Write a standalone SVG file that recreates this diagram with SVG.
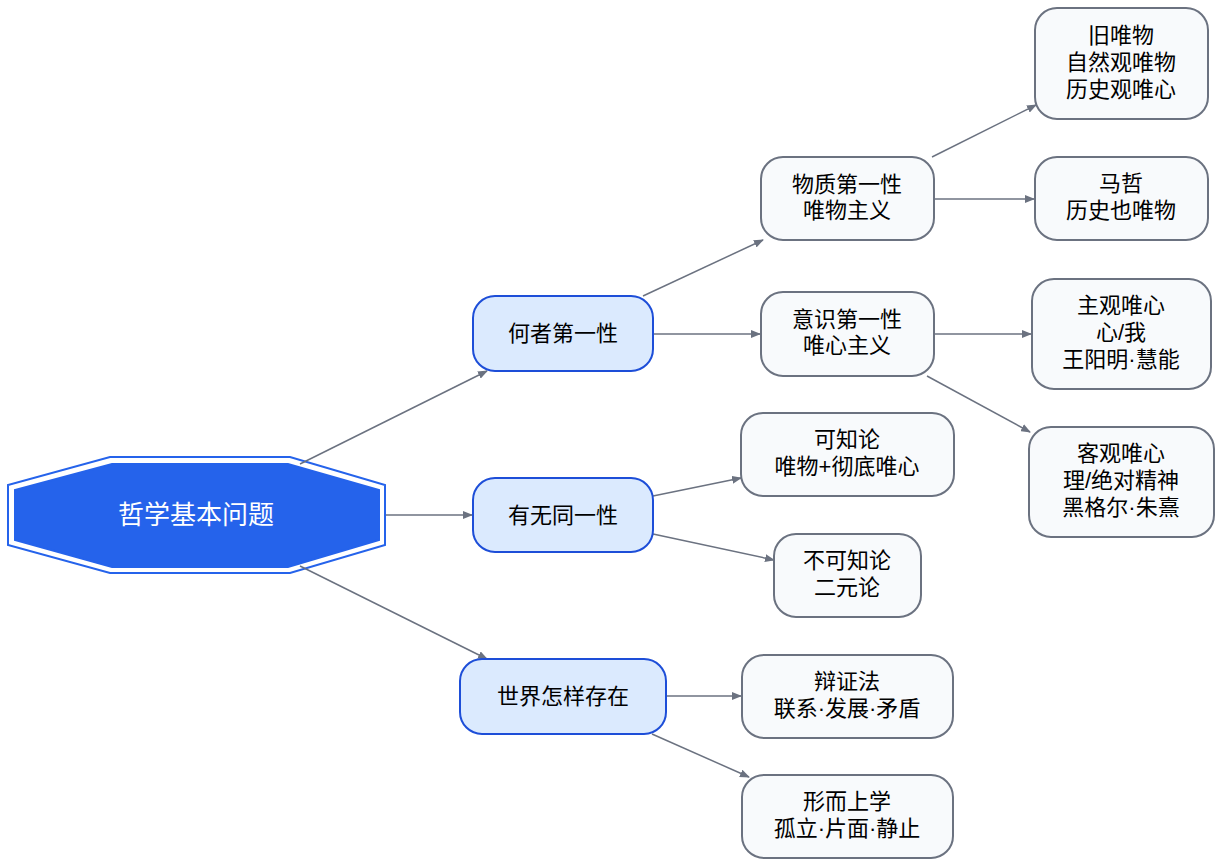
<svg xmlns="http://www.w3.org/2000/svg" width="1223" height="868" viewBox="0 0 1223 868">
<defs>
<marker id="a" markerWidth="10" markerHeight="8" refX="9" refY="4" orient="auto" markerUnits="userSpaceOnUse" viewBox="0 0 10 8"><path d="M0,0L10,4L0,8z" fill="#6b7280"/></marker>
</defs>
<style>
text{font-family:"Liberation Sans","Noto Sans CJK SC",sans-serif;font-size:22px;text-anchor:middle;fill:#000}
.l1 rect{fill:#dbeafe;stroke:#1d4ed8;stroke-width:2}
.l2 rect{fill:#f8fafc;stroke:#6b7280;stroke-width:2}
#edges line{stroke:#6b7280;stroke-width:1.5;marker-end:url(#a)}
</style>
<rect width="1223" height="868" fill="#fff"/>
<g id="root">
<polygon points="110,457 290,457 385,485 385,545 290,573 110,573 8,545 8,485" fill="#fff" stroke="#2563eb" stroke-width="2"/>
<polygon points="112,464 288,464 379,490 379,540 288,567 112,567 15,540 15,490" fill="#2563eb" stroke="#2563eb" stroke-width="2"/>
<text x="196" y="524" style="fill:#fff;font-size:26px">哲学基本问题</text>
</g>
<g id="edges">
<line x1="300" y1="464" x2="487" y2="371"/>
<line x1="386" y1="515" x2="472" y2="515"/>
<line x1="300" y1="566" x2="487" y2="659"/>
<line x1="643" y1="296" x2="763" y2="240"/>
<line x1="653" y1="334" x2="760" y2="334"/>
<line x1="932" y1="157" x2="1036" y2="105"/>
<line x1="934" y1="199" x2="1034" y2="199"/>
<line x1="934" y1="334" x2="1031" y2="334"/>
<line x1="927" y1="376" x2="1030" y2="432"/>
<line x1="653" y1="496" x2="741" y2="478"/>
<line x1="653" y1="534" x2="774" y2="560"/>
<line x1="666" y1="696" x2="741" y2="696"/>
<line x1="652" y1="734" x2="749" y2="777"/>
</g>
<g id="n1" class="l1"><rect x="473" y="296" width="180" height="75" rx="22"/><text x="563" y="341">何者第一性</text></g>
<g id="n2" class="l1"><rect x="473" y="478" width="180" height="74" rx="22"/><text x="563" y="523">有无同一性</text></g>
<g id="n3" class="l1"><rect x="460" y="659" width="206" height="75" rx="22"/><text x="563" y="704">世界怎样存在</text></g>
<g id="n4" class="l2"><rect x="761" y="157" width="173" height="83" rx="22"/><text x="847" y="192">物质第一性</text><text x="847" y="218">唯物主义</text></g>
<g id="n5" class="l2"><rect x="761" y="292" width="173" height="84" rx="22"/><text x="847" y="327">意识第一性</text><text x="847" y="353">唯心主义</text></g>
<g id="n6" class="l2"><rect x="741" y="413" width="213" height="83" rx="22"/><text x="847" y="447">可知论</text><text x="847" y="474">唯物+彻底唯心</text></g>
<g id="n7" class="l2"><rect x="774" y="534" width="147" height="83" rx="22"/><text x="847" y="568">不可知论</text><text x="847" y="595">二元论</text></g>
<g id="n8" class="l2"><rect x="742" y="655" width="211" height="83" rx="22"/><text x="847" y="689">辩证法</text><text x="847" y="716">联系·发展·矛盾</text></g>
<g id="n9" class="l2"><rect x="742" y="775" width="211" height="83" rx="22"/><text x="847" y="809">形而上学</text><text x="847" y="836">孤立·片面·静止</text></g>
<g id="n10" class="l2"><rect x="1035" y="8" width="173" height="111" rx="22"/><text x="1121" y="43">旧唯物</text><text x="1121" y="70">自然观唯物</text><text x="1121" y="97">历史观唯心</text></g>
<g id="n11" class="l2"><rect x="1035" y="157" width="173" height="83" rx="22"/><text x="1121" y="191">马哲</text><text x="1121" y="218">历史也唯物</text></g>
<g id="n12" class="l2"><rect x="1032" y="279" width="179" height="110" rx="22"/><text x="1121" y="313">主观唯心</text><text x="1121" y="340">心/我</text><text x="1121" y="367">王阳明·慧能</text></g>
<g id="n13" class="l2"><rect x="1029" y="427" width="185" height="110" rx="22"/><text x="1121" y="461">客观唯心</text><text x="1121" y="488">理/绝对精神</text><text x="1121" y="515">黑格尔·朱熹</text></g>
</svg>
